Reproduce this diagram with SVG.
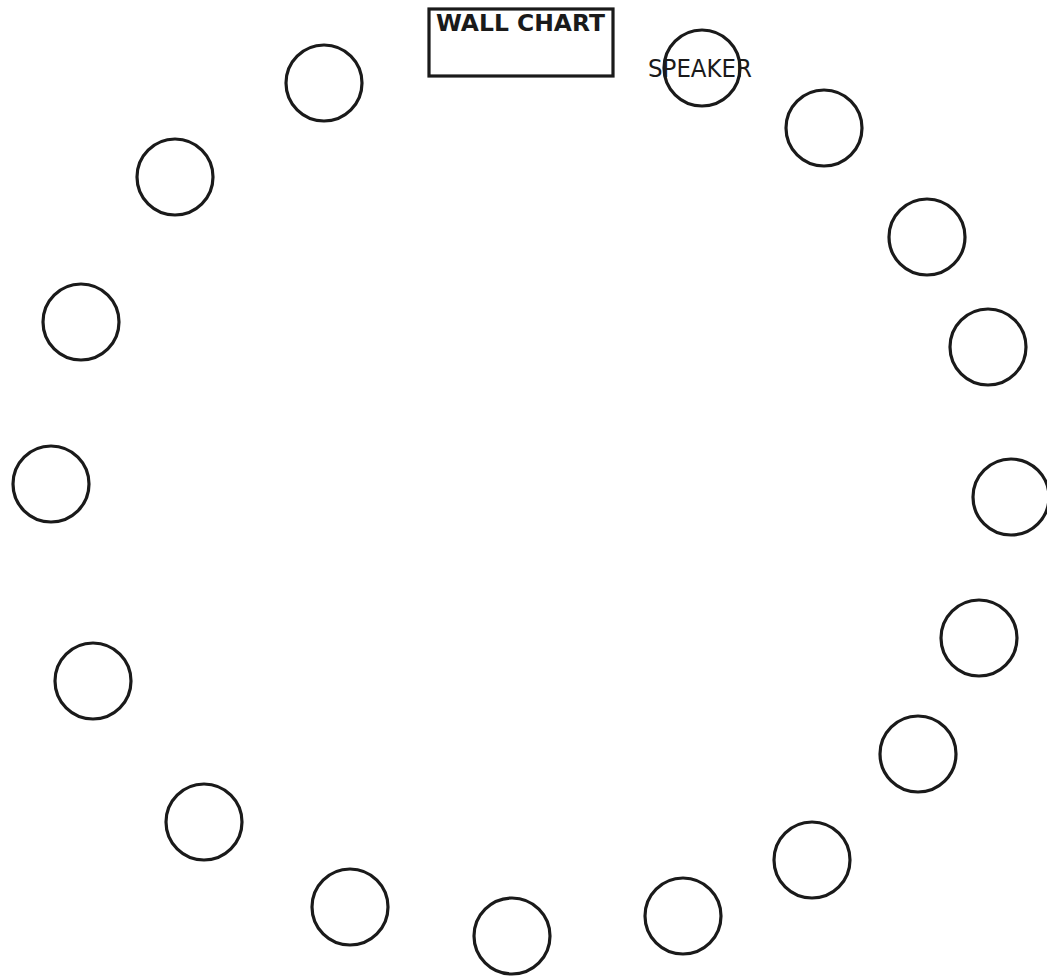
<svg xmlns="http://www.w3.org/2000/svg" width="1047" height="979" viewBox="0 0 1047 979">
<style>
.seat{fill:none;stroke:#1a1a1a;stroke-width:3.2}
.lbl{font-family:"DejaVu Sans","Liberation Sans",sans-serif;fill:#1a1a1a}
</style>
<rect width="1047" height="979" fill="#fff"/>
<g id="wall-chart">
<rect x="429" y="9" width="184" height="67" fill="none" stroke="#1a1a1a" stroke-width="3.2"/>
<text class="lbl" x="436" y="31" font-size="23" font-weight="bold" textLength="169" lengthAdjust="spacingAndGlyphs">WALL CHART</text>
</g>
<g id="speaker">
<circle class="seat" cx="702" cy="68" r="38"/>
<text class="lbl" x="648" y="77" font-size="24" textLength="104" lengthAdjust="spacingAndGlyphs">SPEAKER</text>
</g>
<g id="seats">
<circle id="seat1" class="seat" cx="324" cy="83" r="38"/>
<circle id="seat2" class="seat" cx="175" cy="177" r="38"/>
<circle id="seat3" class="seat" cx="81" cy="322" r="38"/>
<circle id="seat4" class="seat" cx="51" cy="484" r="38"/>
<circle id="seat5" class="seat" cx="93" cy="681" r="38"/>
<circle id="seat6" class="seat" cx="204" cy="822" r="38"/>
<circle id="seat7" class="seat" cx="350" cy="907" r="38"/>
<circle id="seat8" class="seat" cx="512" cy="936" r="38"/>
<circle id="seat9" class="seat" cx="683" cy="916" r="38"/>
<circle id="seat10" class="seat" cx="812" cy="860" r="38"/>
<circle id="seat11" class="seat" cx="918" cy="754" r="38"/>
<circle id="seat12" class="seat" cx="979" cy="638" r="38"/>
<circle id="seat13" class="seat" cx="1011" cy="497" r="38"/>
<circle id="seat14" class="seat" cx="988" cy="347" r="38"/>
<circle id="seat15" class="seat" cx="927" cy="237" r="38"/>
<circle id="seat16" class="seat" cx="824" cy="128" r="38"/>
</g>
</svg>
